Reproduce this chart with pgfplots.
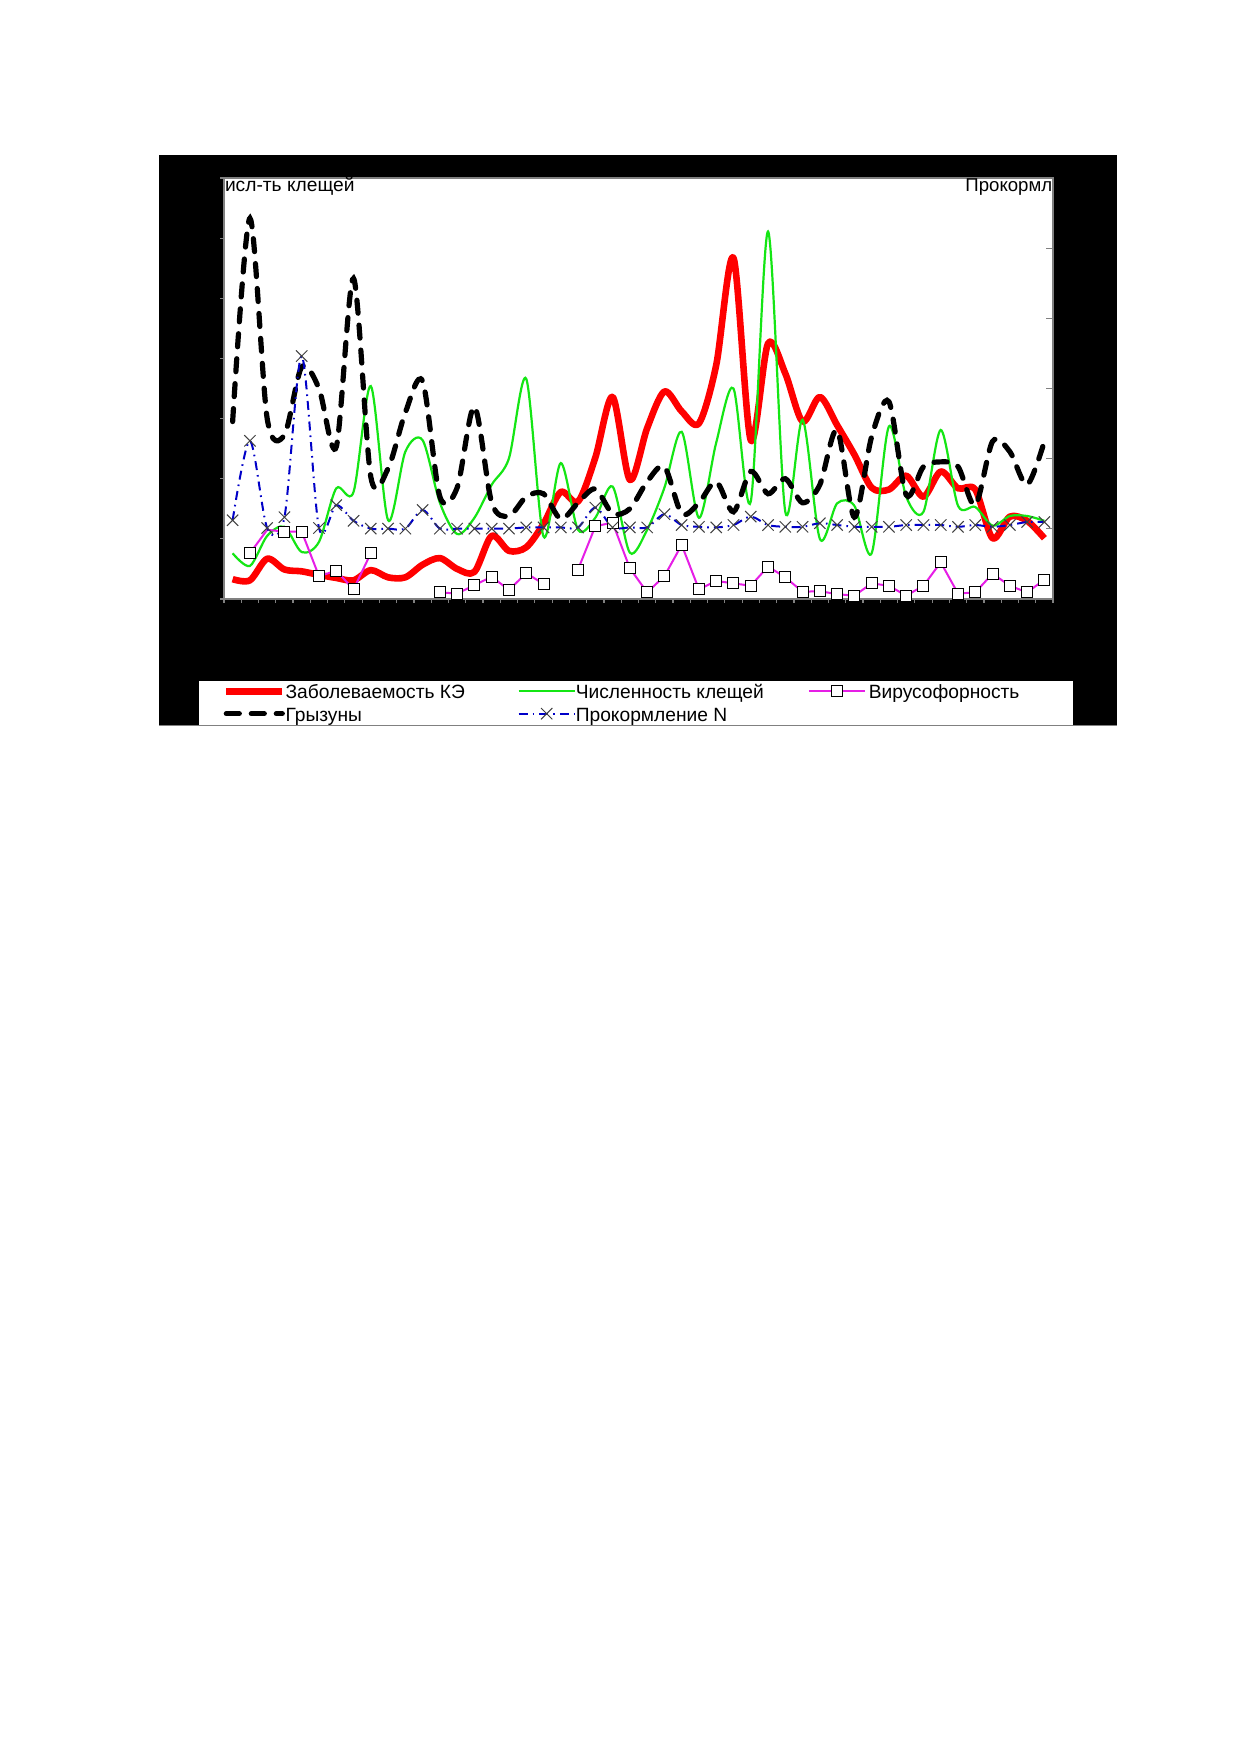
\documentclass[border=0pt]{standalone}
\usepackage{fontspec}
\setmainfont{Liberation Sans}
\usepackage{pgfplots}
\usepackage{pgfplotstable}
\pgfplotsset{compat=1.18}

\definecolor{kered}{RGB}{255,0,0}
\definecolor{kegreen}{RGB}{20,230,20}
\definecolor{kemag}{RGB}{230,30,230}
\definecolor{keblue}{RGB}{0,0,200}
\definecolor{kegray}{RGB}{128,128,128}

\pgfplotstableread{
i red green vir virm black blue
0 0.33 0.76 nan nan 2.95 1.31
1 0.31 0.55 0.76 0.76 6.33 2.63
2 0.67 1.05 1.15 nan 3.00 1.18
3 0.49 1.20 1.12 1.12 2.73 1.36
4 0.46 0.78 1.12 1.12 3.86 4.04
5 0.40 0.95 0.38 0.38 3.50 1.18
6 0.35 1.84 0.47 0.47 2.53 1.56
7 0.31 1.78 0.16 0.16 5.33 1.30
8 0.48 3.54 0.76 0.76 2.03 1.17
9 0.36 1.31 nan nan 2.17 1.17
10 0.36 2.45 nan nan 3.10 1.17
11 0.57 2.64 nan nan 3.62 1.48
12 0.68 1.60 0.11 0.11 1.70 1.17
13 0.50 1.08 0.09 0.09 1.85 1.17
14 0.45 1.35 0.23 0.23 3.20 1.17
15 1.05 1.90 0.37 0.37 1.60 1.17
16 0.80 2.34 0.15 0.15 1.38 1.17
17 0.86 3.66 0.43 0.43 1.70 1.19
18 1.25 1.04 0.25 0.25 1.75 1.19
19 1.78 2.26 nan nan 1.33 1.19
20 1.62 1.15 0.49 0.49 1.60 1.19
21 2.35 1.35 1.21 1.21 1.83 1.52
22 3.36 1.87 1.27 1.27 1.42 1.19
23 1.98 0.77 0.51 0.51 1.50 1.19
24 2.84 1.15 0.11 0.11 1.95 1.19
25 3.45 1.85 0.38 0.38 2.20 1.41
26 3.12 2.78 0.90 0.90 1.42 1.23
27 2.92 1.35 0.16 0.16 1.60 1.20
28 3.89 2.60 0.30 0.30 1.95 1.19
29 5.67 3.50 0.26 0.26 1.45 1.23
30 2.64 1.62 0.22 0.22 2.12 1.37
31 4.25 6.11 0.54 0.54 1.75 1.23
32 3.75 1.45 0.36 0.36 2.00 1.20
33 2.95 2.98 0.12 0.12 1.60 1.20
34 3.36 1.00 0.13 0.13 1.90 1.26
35 2.89 1.59 0.08 0.08 2.81 1.23
36 2.40 1.55 0.055 0.055 1.36 1.20
37 1.85 0.76 0.26 0.26 2.70 1.20
38 1.82 2.87 0.22 0.22 3.28 1.20
39 2.05 1.70 0.055 0.055 1.73 1.23
40 1.70 1.45 0.22 0.22 2.20 1.23
41 2.12 2.81 0.61 0.61 2.28 1.23
42 1.84 1.55 0.09 0.09 2.20 1.20
43 1.82 1.53 0.11 0.11 1.56 1.23
44 1.01 1.22 0.42 0.42 2.62 1.20
45 1.37 1.38 0.22 0.22 2.45 1.23
46 1.30 1.38 0.11 0.11 1.90 1.28
47 1.01 1.30 0.32 0.32 2.62 1.28
}\datatable

\newcommand{\lt}[1]{\makebox[116pt][l]{\rule[-2pt]{0pt}{11.2pt}#1}}

\begin{document}
\begin{tikzpicture}
\useasboundingbox (0,0) rectangle (619.5pt,876pt);
\fill[white] (0,0) rectangle (619.5pt,876pt);
\fill[black] (79.5pt,513.5pt) rectangle (558.5pt,798.5pt);
\fill[white] (99.5pt,513.5pt) rectangle (536.5pt,535.5pt);

\begin{axis}[
  at={(112pt,576.5pt)}, anchor=south west,
  scale only axis, width=414.5pt, height=210.5pt,
  xmin=-0.5, xmax=47.5, ymin=0, ymax=7,
  axis background/.style={fill=white},
  axis line style={kegray, line width=0.9pt},
  xtick={-0.5,0.5,...,47.5}, xticklabels={},
  ytick={0,1,...,7}, yticklabels={},
  xtick pos=bottom, ytick pos=left,
  tick align=outside,
  major tick length=1.8pt,
  tick style={kegray, line width=0.6pt},
  unbounded coords=jump,
  legend image code/.code={%
    \draw[mark repeat=2,mark phase=2,#1] plot coordinates {(0pt,0pt) (14pt,0pt) (28pt,0pt)};},
  legend columns=3,
  legend cell align=left,
  legend style={at={(-0.0012,-0.1938)}, anchor=north west,
    draw=none, fill=none, inner sep=0pt, outer sep=0pt,
    column sep=0pt, row sep=0.5pt,
    nodes={inner sep=0pt, outer sep=0pt},
    font=\fontsize{9.6}{11}\selectfont},
]
\addplot[kered, line width=3.3pt, smooth, line join=round] table[x=i, y=red] {\datatable};
\addlegendentry{\lt{Заболеваемость КЭ}}
\addplot[kegreen, line width=1.1pt, smooth] table[x=i, y=green] {\datatable};
\addlegendentry{\lt{Численность клещей}}
\addplot[kemag, line width=1pt,
  legend image post style={mark=square*, mark size=2.75pt,
    mark options={solid, fill=white, draw=black, line width=0.5pt}}]
  table[x=i, y=vir] {\datatable};
\addlegendentry{\hspace{1.5pt}\rule[-2pt]{0pt}{11.2pt}Вирусофорность}
\addplot[forget plot, draw=none, mark=square*, mark size=2.75pt,
  mark options={solid, fill=white, draw=black, line width=0.5pt}]
  table[x=i, y=virm] {\datatable};
\addplot[black, line width=2.6pt, smooth, line cap=round,
  dash pattern=on 6.5pt off 6pt] table[x=i, y=black] {\datatable};
\addlegendentry{\lt{Грызуны}}
\addplot[keblue, line width=1pt, smooth,
  dash pattern=on 4.5pt off 2.5pt on 0.8pt off 2.5pt,
  mark=x, mark size=4pt,
  mark options={solid, black!75, line width=0.5pt}] table[x=i, y=blue] {\datatable};
\addlegendentry{\lt{Прокормление N}}
\end{axis}

\begin{axis}[
  at={(112pt,576.5pt)}, anchor=south west,
  scale only axis, width=414.5pt, height=210.5pt,
  xmin=-0.5, xmax=47.5, ymin=0, ymax=6,
  axis x line=none, axis y line*=right,
  axis line style={kegray, line width=0.9pt},
  ytick={0,1,...,6}, yticklabels={},
  tick align=inside, major tick length=3.3pt,
  tick style={kegray, line width=0.6pt},
]
\end{axis}

\node[anchor=base west, inner sep=0pt, font=\fontsize{9.6}{11}\selectfont] at (112.3pt,780pt) {исл-ть клещей};
\node[anchor=base east, inner sep=0pt, font=\fontsize{9.3}{11}\selectfont] at (526.3pt,780pt) {Прокормл};

\fill[white] (0,0) rectangle (619.5pt,513.5pt);
\draw[kegray, line width=0.8pt] (79.5pt,513.2pt) -- (558.5pt,513.2pt);
\end{tikzpicture}
\end{document}
